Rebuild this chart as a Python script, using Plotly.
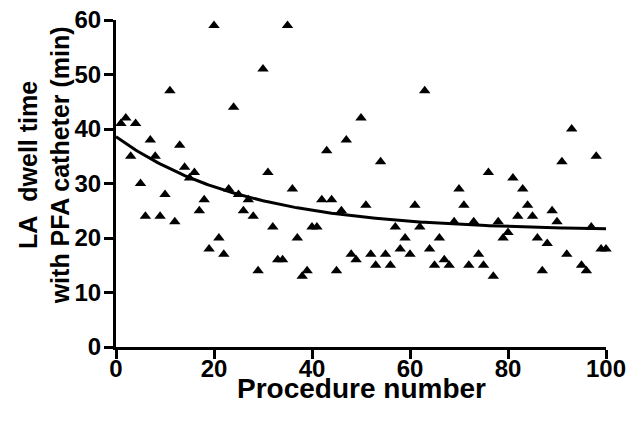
import numpy as np
import plotly.graph_objects as go

# Procedure number and LA dwell time (min) for each case
procedure = [1, 2, 3, 4, 5, 6, 7, 8, 9, 10,
             11, 12, 13, 14, 15, 16, 17, 18, 19, 20,
             21, 22, 23, 24, 25, 26, 27, 28, 29, 30,
             31, 32, 33, 34, 35, 36, 37, 38, 39, 40,
             41, 42, 43, 44, 45, 46, 47, 48, 49, 50,
             51, 52, 53, 54, 55, 56, 57, 58, 59, 60,
             61, 62, 63, 64, 65, 66, 67, 68, 69, 70,
             71, 72, 73, 74, 75, 76, 77, 78, 79, 80,
             81, 82, 83, 84, 85, 86, 87, 88, 89, 90,
             91, 92, 93, 95, 96, 97, 98, 99, 100]
dwell_min = [41, 42, 35, 41, 30, 24, 38, 35, 24, 28,
             47, 23, 37, 33, 31, 32, 25, 27, 18, 59,
             20, 17, 29, 44, 28, 25, 27, 24, 14, 51,
             32, 22, 16, 16, 59, 29, 20, 13, 14, 22,
             22, 27, 36, 27, 14, 25, 38, 17, 16, 42,
             26, 17, 15, 34, 17, 15, 22, 18, 20, 17,
             26, 22, 47, 18, 15, 20, 16, 15, 23, 29,
             26, 15, 23, 17, 15, 32, 13, 23, 20, 21,
             31, 24, 29, 26, 24, 20, 14, 19, 25, 23,
             34, 17, 40, 15, 14, 22, 35, 18, 18]

# One-phase exponential decay fit: Y = plateau + (y0 - plateau) * exp(-k * X)
fit_y0 = 38.6
fit_plateau = 21.3
fit_k = 0.038

x_tick_vals = [0, 20, 40, 60, 80, 100]
y_tick_vals = [0, 10, 20, 30, 40, 50, 60]

fit_x = np.linspace(0, 100, 201)
fit_curve = fit_plateau + (fit_y0 - fit_plateau) * np.exp(-fit_k * fit_x)

font_family = "Liberation Sans, Arial, sans-serif"

fig = go.Figure()
fig.add_trace(go.Scatter(
    x=fit_x, y=fit_curve, mode="lines",
    line=dict(color="black", width=3),
    hoverinfo="skip", cliponaxis=False,
))
fig.add_trace(go.Scatter(
    x=procedure, y=dwell_min, mode="markers",
    marker=dict(symbol="triangle-up", size=10, color="black"),
    cliponaxis=False,
))

axis_common = dict(
    showline=True, linecolor="black", linewidth=3,
    ticks="outside", ticklen=9, tickwidth=3, tickcolor="black",
    showgrid=False, zeroline=False, automargin=False,
    tickfont=dict(family=font_family, size=24, color="black", weight="bold"),
)

fig.update_layout(
    width=627, height=425, autosize=False,
    margin=dict(l=116, r=21, t=20, b=78, autoexpand=False),
    paper_bgcolor="white", plot_bgcolor="white",
    showlegend=False,
    xaxis=dict(range=[0, 100], tickvals=x_tick_vals, ticklabelstandoff=-11,
               **axis_common),
    yaxis=dict(range=[0, 60], tickvals=y_tick_vals, ticklabelstandoff=-2,
               **axis_common),
    annotations=[
        dict(text="Procedure number", xref="paper", yref="paper",
             x=0.5, y=-0.128, xanchor="center", yanchor="middle",
             showarrow=False,
             font=dict(family=font_family, size=28, color="black", weight="bold")),
        dict(text="LA\u00a0 dwell time<br>with PFA catheter (min)",
             xref="paper", yref="paper",
             x=-0.146, y=0.557, xanchor="center", yanchor="middle",
             textangle=-90, showarrow=False,
             font=dict(family=font_family, size=25, color="black", weight="bold")),
    ],
)

fig.write_html("out.html")
